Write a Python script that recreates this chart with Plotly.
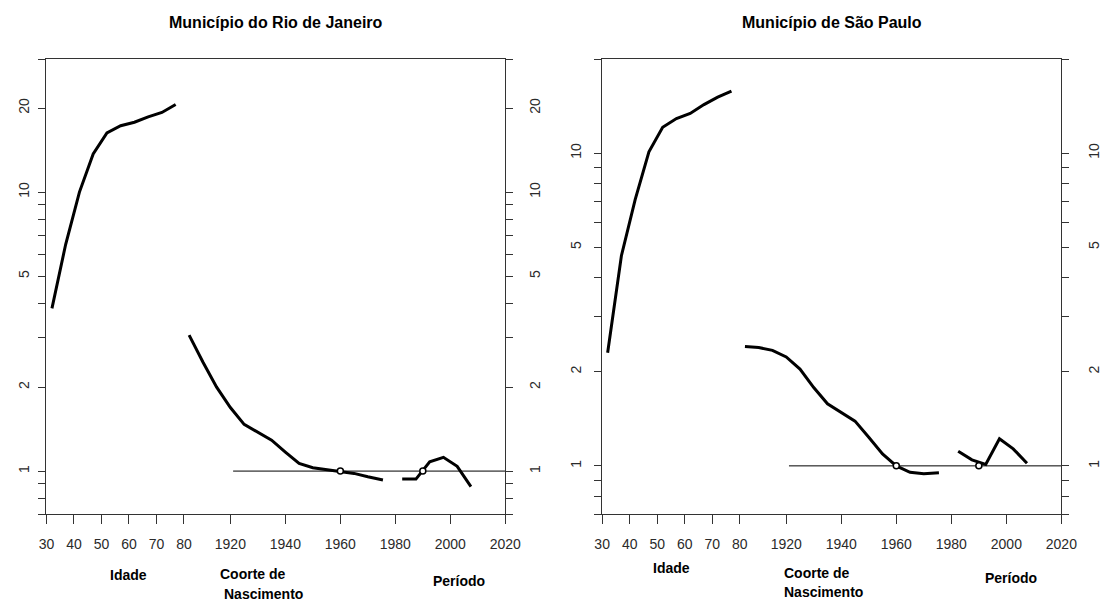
import math
import plotly.graph_objects as go

# ---------------- data ----------------
AGE_OFFSET = 1823.1          # age a is drawn at calendar position a + AGE_OFFSET
AGE_TICKS = [30, 40, 50, 60, 70, 80]
YEAR_TICKS = [1920, 1940, 1960, 1980, 2000, 2020]
X_MAX = 2020

AGE = [32, 37, 42, 47, 52, 57, 62, 67, 72, 77]
COHORT = [1905, 1910, 1915, 1920, 1925, 1930, 1935, 1940, 1945, 1950, 1955, 1960, 1965, 1970, 1975.5]
PERIOD = [1982.5, 1987.5, 1992.5, 1997.5, 2002.5, 2007.5]

RIO_AGE = [3.83, 6.5, 10.0, 13.7, 16.3, 17.3, 17.8, 18.6, 19.3, 20.6]
RIO_COHORT = [3.07, 2.46, 2.0, 1.69, 1.47, 1.38, 1.29, 1.17, 1.065, 1.028, 1.014, 1.0, 0.981, 0.954, 0.929]
RIO_PERIOD = [0.936, 0.936, 1.08, 1.12, 1.04, 0.88]

SP_AGE = [2.30, 4.7, 7.1, 10.1, 12.1, 12.9, 13.4, 14.3, 15.1, 15.8]
SP_COHORT = [2.41, 2.39, 2.34, 2.23, 2.04, 1.78, 1.58, 1.48, 1.39, 1.235, 1.092, 1.0, 0.954, 0.943, 0.950]
SP_PERIOD = [1.114, 1.045, 1.01, 1.22, 1.133, 1.02]

REF_COHORT = 1960
REF_PERIOD = 1990
REF_VALUE = 1
REF_LINE_START = 1921

Y_MIN = 0.7
RIO_Y_MAX = 30
SP_Y_MAX = 20
Y_TICKS = [0.7, 0.8, 0.9, 1, 2, 3, 4, 5, 6, 7, 8, 9, 10, 20, 30]
Y_LABELED = [1, 2, 5, 10, 20]

TITLES = ["Município do Rio de Janeiro", "Município de São Paulo"]
LAB_AGE = "Idade"
LAB_COH = ["Coorte de", "Nascimento"]
LAB_PER = "Período"

# ---------------- figure ----------------
W, H = 1108, 602
X1 = [39.3 / W, 508.3 / W]
X2 = [607.3 / W, 1076.7 / W]
YD = [(H - 514.3) / H, (H - 59) / H]

TICKFONT = dict(family="Liberation Sans, Arial, sans-serif", size=14, color="#2a2a2a")
LINEC = "#333333"

fig = go.Figure()


def add_panel(xa, ya, ya_r, age_v, coh_v, per_v):
    line = dict(color="black", width=3)
    fig.add_trace(go.Scatter(x=[a + AGE_OFFSET for a in AGE], y=age_v, mode="lines",
                             line=line, xaxis=xa, yaxis=ya, hoverinfo="skip"))
    fig.add_trace(go.Scatter(x=COHORT, y=coh_v, mode="lines", line=line,
                             xaxis=xa, yaxis=ya, hoverinfo="skip"))
    fig.add_trace(go.Scatter(x=PERIOD, y=per_v, mode="lines", line=line,
                             xaxis=xa, yaxis=ya, hoverinfo="skip"))
    fig.add_trace(go.Scatter(x=[REF_LINE_START, X_MAX], y=[REF_VALUE, REF_VALUE], mode="lines",
                             line=dict(color="black", width=1), xaxis=xa, yaxis=ya, hoverinfo="skip"))
    fig.add_trace(go.Scatter(x=[REF_COHORT, REF_PERIOD], y=[REF_VALUE, REF_VALUE], mode="markers",
                             marker=dict(symbol="circle", size=6, color="white",
                                         line=dict(color="black", width=1.5)),
                             xaxis=xa, yaxis=ya, hoverinfo="skip"))
    # invisible trace so that the right-hand axis is drawn
    fig.add_trace(go.Scatter(x=[X_MAX], y=[REF_VALUE], mode="markers", marker=dict(opacity=0),
                             xaxis=xa, yaxis=ya_r, hoverinfo="skip"))


add_panel("x", "y", "y2", RIO_AGE, RIO_COHORT, RIO_PERIOD)
add_panel("x2", "y3", "y4", SP_AGE, SP_COHORT, SP_PERIOD)

x_tickvals = [a + AGE_OFFSET for a in AGE_TICKS] + YEAR_TICKS
x_ticktext = [str(a) for a in AGE_TICKS] + [str(y) for y in YEAR_TICKS]


def xaxis(domain, anchor):
    return dict(domain=domain, anchor=anchor, range=[AGE_OFFSET + AGE_TICKS[0], X_MAX],
                tickmode="array", tickvals=x_tickvals, ticktext=x_ticktext,
                ticks="outside", ticklen=9, tickwidth=1, tickcolor=LINEC,
                showline=True, linecolor=LINEC, linewidth=1, mirror=True,
                showgrid=False, zeroline=False, tickfont=TICKFONT,
                ticklabelstandoff=8)


def yaxis(ymax, side, anchor, overlaying=None, standoff=5):
    vals = [v for v in Y_TICKS if v <= ymax]
    text = [str(v) if v in Y_LABELED and v < ymax else "" for v in vals]
    d = dict(type="log", domain=YD, anchor=anchor, side=side,
             range=[math.log10(Y_MIN), math.log10(ymax)],
             tickmode="array", tickvals=vals, ticktext=text, tickangle=-90,
             ticks="outside", ticklen=7, tickwidth=1, tickcolor=LINEC,
             showline=True, linecolor=LINEC, linewidth=1,
             showgrid=False, zeroline=False, tickfont=TICKFONT,
             ticklabelstandoff=standoff)
    if overlaying:
        d["overlaying"] = overlaying
    return d


fig.update_layout(
    width=W, height=H, margin=dict(l=0, r=0, t=0, b=0),
    paper_bgcolor="white", plot_bgcolor="white", showlegend=False,
    xaxis=xaxis(X1, "y"),
    xaxis2=xaxis(X2, "y3"),
    yaxis=yaxis(RIO_Y_MAX, "left", "x", standoff=4),
    yaxis2=yaxis(RIO_Y_MAX, "right", "x", overlaying="y", standoff=10),
    yaxis3=yaxis(SP_Y_MAX, "left", "x2", standoff=8),
    yaxis4=yaxis(SP_Y_MAX, "right", "x2", overlaying="y3", standoff=13),
)

TITLEFONT = dict(family="Liberation Sans, Arial, sans-serif", size=16, color="black")
LABFONT = dict(family="Liberation Sans, Arial, sans-serif", size=14, color="black")


def px_ann(text, x, y, font):
    fig.add_annotation(text=f"<b>{text}</b>", x=x / W, y=1 - y / H, xref="paper", yref="paper",
                       showarrow=False, font=font, xanchor="center", yanchor="middle", align="center")


px_ann(TITLES[0], 273.8, 23, TITLEFONT)
px_ann(TITLES[1], 842.0, 23, TITLEFONT)

# left panel axis labels
px_ann(LAB_AGE, 123, 575, LABFONT)
px_ann(LAB_COH[0], 250.5, 574, LABFONT)
px_ann(LAB_COH[1], 261, 594, LABFONT)
px_ann(LAB_PER, 461, 581, LABFONT)
# right panel axis labels
px_ann(LAB_AGE, 678, 568, LABFONT)
px_ann(LAB_COH[0], 827, 573, LABFONT)
px_ann(LAB_COH[1], 834, 592, LABFONT)
px_ann(LAB_PER, 1025, 578, LABFONT)

fig.write_html("out.html")
